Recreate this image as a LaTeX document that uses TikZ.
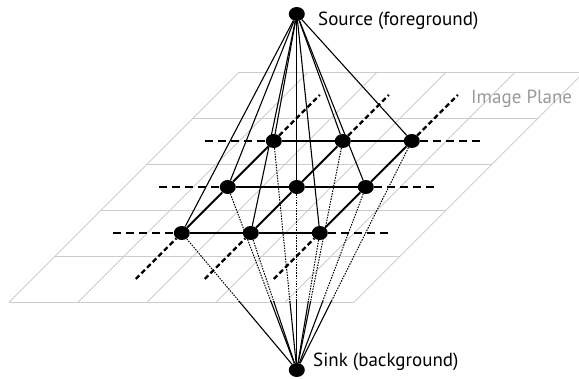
\documentclass[tikz,border=0pt]{standalone}
\usepackage{fontspec}
\setmainfont{PT Sans}
\usetikzlibrary{positioning, shapes.geometric}

\begin{document}
\begin{tikzpicture}[x=1pt, y=-1pt,
        pixel/.style={ellipse, fill=black, minimum width=16pt, minimum height=14pt, inner sep=0pt},
        plane_line/.style={draw, gray!40, line width=0.8pt},
        row_dash/.style={draw, line width=1.4pt, dash pattern=on 8pt off 5pt},
        col_dash/.style={draw, line width=2.2pt, dash pattern=on 5pt off 3pt},
        row_link/.style={draw, line width=1.3pt},
        col_link/.style={draw, line width=2pt},
        feed/.style={draw, line width=1.1pt},
        drain/.style={draw, line width=1pt, dash pattern=on 1.5pt off 1.2pt},
        lbl/.style={font=\fontsize{19}{22}\selectfont, inner sep=0pt}
    ]
        \useasboundingbox (0,0) rectangle (579,379);

        % Image plane (u across, v into depth)
        \begin{scope}[shift={(9.3,302)}, x={(69pt,0pt)}, y={(46pt,46pt)}]
            \foreach \k in {0,...,5} {
                \draw[plane_line] (0,\k) -- (5,\k);
                \draw[plane_line] (\k,0) -- (\k,5);
            }
            % Pixels
            \foreach \i in {1,2,3} {
                \foreach \j in {1,2,3} {
                    \node[pixel] (p\i\j) at (\i+0.5,\j+0.5) {};
                }
            }
            % Loose ends of the dashed lines
            \foreach \k in {1,2,3} {
                \coordinate (rl\k) at (0.5,\k+0.5);
                \coordinate (rr\k) at (4.5,\k+0.5);
                \coordinate (cb\k) at (\k+0.5,0.5);
                \coordinate (ct\k) at (\k+0.5,4.5);
            }
        \end{scope}
        \node[lbl, text=gray!80, anchor=west] (plane) at (471,99) {Image Plane};

        % Terminals
        \node[pixel] (src) at (296.8,14) {};
        \node[pixel] (snk) at (296.8,370) {};
        \node[lbl, right=13pt of src, yshift=-7pt] (srclbl) {Source (foreground)};
        \node[lbl, right=8pt of snk, yshift=8pt] (snklbl) {Sink (background)};

        % Neighbourhood edges
        \foreach \k in {1,2,3} {
            \draw[row_dash] (rl\k) -- (p1\k);
            \draw[row_dash] (p3\k) -- (rr\k);
            \draw[col_dash] (cb\k) -- (p\k1);
            \draw[col_dash] (p\k3) -- (ct\k);
            \draw[row_link] (p1\k) -- (p2\k) -- (p3\k);
            \draw[col_link] (p\k1) -- (p\k2) -- (p\k3);
        }

        % Terminal edges
        \foreach \i in {1,2,3} {
            \foreach \j in {1,2,3} {
                \draw[feed] (src) -- (p\i\j);
            }
        }
        \begin{scope}
            \clip (0,0) rectangle (579,302);
            \foreach \i in {1,2,3} {
                \foreach \j in {1,2,3} {
                    \draw[drain] (p\i\j) -- (snk);
                }
            }
        \end{scope}
        \begin{scope}
            \clip (0,302) rectangle (579,379);
            \foreach \i in {1,2,3} {
                \foreach \j in {1,2,3} {
                    \draw[feed] (p\i\j) -- (snk);
                }
            }
        \end{scope}

    \end{tikzpicture}
\end{document}
